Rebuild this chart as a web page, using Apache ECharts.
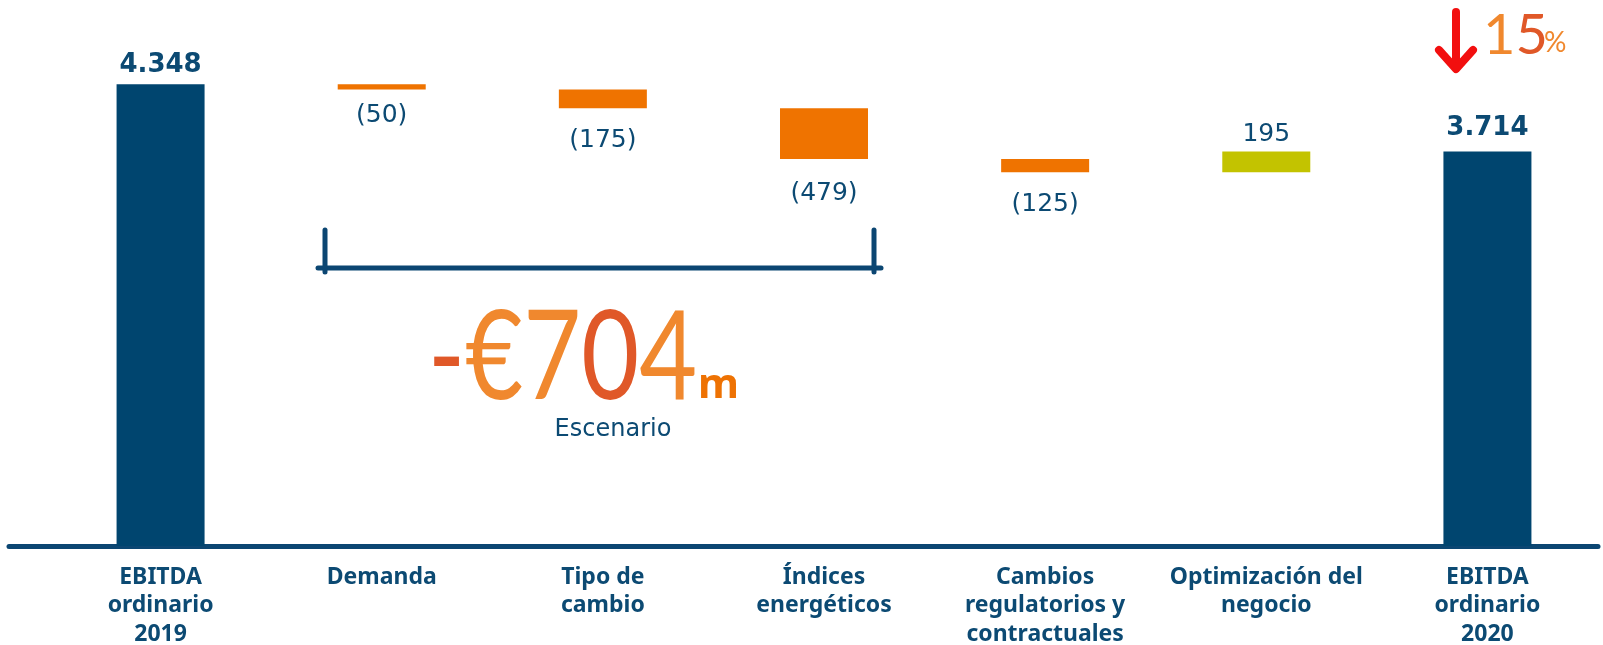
<!DOCTYPE html>
<html>
<head>
<meta charset="utf-8">
<script src="https://cdn.jsdelivr.net/npm/echarts@6/dist/echarts.min.js"></script>
<style>
  html, body { margin: 0; padding: 0; background: #fff; }
  #chart { width: 1603px; height: 645px; }
</style>
</head>
<body>
<div id="chart"></div>
<script>
// categorias y variaciones del EBITDA (millones de euros)
const categories = [
  'EBITDA\nordinario\n2019',
  'Demanda',
  'Tipo de\ncambio',
  'Índices\nenergéticos',
  'Cambios\nregulatorios y\ncontractuales',
  'Optimización del\nnegocio',
  'EBITDA\nordinario\n2020'
];
const changes = [4348, -50, -175, -479, -125, 195, 3714];
const isTotal = [true, false, false, false, false, false, true];

const BLUE = '#00456F';
const ORANGE = '#EF7300';
const OLIVE = '#C3C300';
const TEXT = '#0C4A73';
const AXIS = '#0B4672';

// distancia de cada etiqueta a su barra
const labelGap = [6, 13, 20, 22, 20, 5, 10];

// construir la cascada
const baseData = [];
const barData = [];
let running = 0;
changes.forEach((v, i) => {
  let base, color, label;
  if (isTotal[i]) {
    base = 0;
    running = v;
    color = BLUE;
    label = {
      position: 'top', distance: labelGap[i],
      fontFamily: 'DejaVu Sans', fontWeight: 'bold', fontSize: 26, color: TEXT
    };
  } else if (v < 0) {
    running += v;
    base = running;
    color = ORANGE;
    label = {
      position: 'bottom', distance: labelGap[i],
      fontFamily: 'DejaVu Sans', fontSize: 25, color: TEXT
    };
  } else {
    base = running;
    running += v;
    color = OLIVE;
    label = {
      position: 'top', distance: labelGap[i],
      fontFamily: 'DejaVu Sans', fontSize: 25, color: TEXT
    };
  }
  baseData.push(base);
  barData.push({ value: Math.abs(v), itemStyle: { color: color }, label: label });
});

function fmt(v, total) {
  if (total) return String(v).replace(/\B(?=(\d{3})+(?!\d))/g, '.');
  return v < 0 ? '(' + Math.abs(v) + ')' : String(v);
}

const chart = echarts.init(document.getElementById('chart'));
chart.setOption({
  animation: false,
  grid: { left: 50, right: 5, top: 15, bottom: 99, outerBoundsMode: 'none' },
  xAxis: {
    type: 'category',
    data: categories,
    axisTick: { show: false },
    axisLine: { lineStyle: { color: AXIS, width: 5 } },
    axisLabel: {
      interval: 0,
      margin: 17,
      lineHeight: 28.5,
      fontFamily: 'Noto Sans',
      fontWeight: 'bold',
      fontSize: 23,
      color: TEXT
    }
  },
  yAxis: {
    type: 'value',
    min: 0,
    max: 5000,
    show: false
  },
  series: [
    {
      type: 'bar',
      stack: 'w',
      barWidth: 88,
      itemStyle: { color: 'transparent' },
      data: baseData,
      silent: true
    },
    {
      type: 'bar',
      stack: 'w',
      barWidth: 88,
      data: barData,
      label: {
        show: true,
        formatter: p => fmt(changes[p.dataIndex], isTotal[p.dataIndex])
      }
    }
  ],
  graphic: [
    // extension del eje a la izquierda
    { type: 'line', shape: { x1: 9, y1: 546.5, x2: 52, y2: 546.5 },
      style: { stroke: AXIS, lineWidth: 5, lineCap: 'round' } },
    // corchete "Escenario"
    { type: 'line', shape: { x1: 318, y1: 268, x2: 881, y2: 268 },
      style: { stroke: AXIS, lineWidth: 5, lineCap: 'round' } },
    { type: 'line', shape: { x1: 325, y1: 230, x2: 325, y2: 272 },
      style: { stroke: AXIS, lineWidth: 5, lineCap: 'round' } },
    { type: 'line', shape: { x1: 874, y1: 230, x2: 874, y2: 272 },
      style: { stroke: AXIS, lineWidth: 5, lineCap: 'round' } },
    {
      type: 'text', x: 428, y: 359, scaleX: 0.8,
      style: {
        text: '{r|-}{o|€7}{r|0}{o|4}',
        verticalAlign: 'middle',
        rich: {
          o: { fontFamily: 'Lato', fontSize: 125, fill: '#F0882E' },
          r: { fontFamily: 'Lato', fontSize: 125, fill: '#E05828' }
        }
      }
    },
    { type: 'text', x: 698, y: 386,
      style: { text: 'm', fontFamily: 'Noto Sans', fontWeight: 'bold', fontSize: 42,
               fill: '#EE7203', verticalAlign: 'middle' } },
    { type: 'text', x: 613, y: 430,
      style: { text: 'Escenario', fontFamily: 'DejaVu Sans', fontSize: 24, fill: TEXT,
               align: 'center', verticalAlign: 'middle' } },
    // flecha roja y 15%
    { type: 'polyline', shape: { points: [[1456, 12], [1456, 66]] },
      style: { stroke: '#F20F0F', lineWidth: 8, lineCap: 'round', fill: null } },
    { type: 'polyline', shape: { points: [[1439, 50], [1456, 69], [1473, 50]] },
      style: { stroke: '#F20F0F', lineWidth: 8, lineCap: 'round', lineJoin: 'round', fill: null } },
    {
      type: 'text', x: 1483, y: 36,
      style: {
        text: '{o|1}{r|5}',
        verticalAlign: 'middle',
        rich: {
          o: { fontFamily: 'Lato', fontSize: 56, fill: '#F0882E' },
          r: { fontFamily: 'Lato', fontSize: 56, fill: '#E05828' }
        }
      }
    },
    { type: 'text', x: 1544, y: 43,
      style: { text: '%', fontFamily: 'Lato', fontSize: 28, fill: '#F0882E', verticalAlign: 'middle' } }
  ]
});
</script>
</body>
</html>
